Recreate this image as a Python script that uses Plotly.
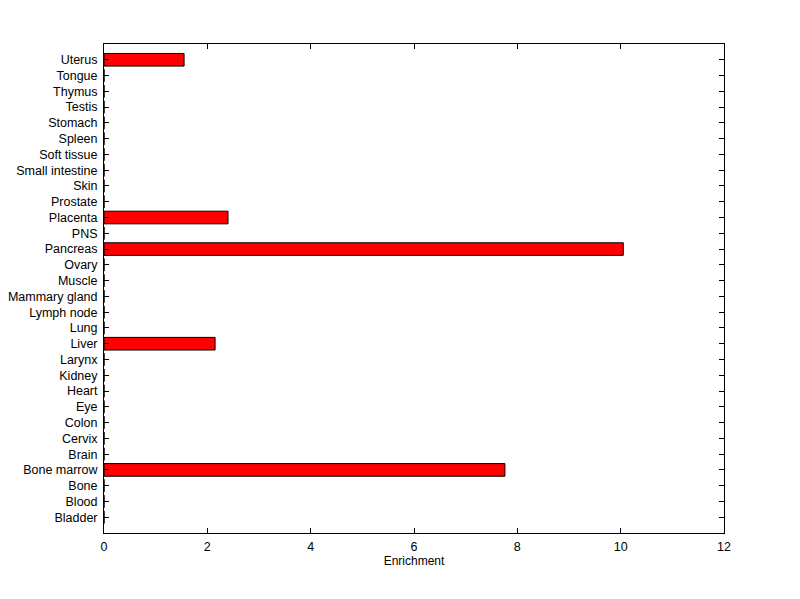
import plotly.graph_objects as go

categories = ["Bladder", "Blood", "Bone", "Bone marrow", "Brain", "Cervix", "Colon", "Eye",
              "Heart", "Kidney", "Larynx", "Liver", "Lung", "Lymph node", "Mammary gland",
              "Muscle", "Ovary", "Pancreas", "PNS", "Placenta", "Prostate", "Skin",
              "Small intestine", "Soft tissue", "Spleen", "Stomach", "Testis", "Thymus",
              "Tongue", "Uterus"]
enrichment = [0, 0, 0, 7.76, 0, 0, 0, 0,
              0, 0, 0, 2.15, 0, 0, 0,
              0, 0, 10.05, 0, 2.4, 0, 0,
              0, 0, 0, 0, 0, 0,
              0, 1.55]
x_ticks = [0, 2, 4, 6, 8, 10, 12]

idx = list(range(len(categories)))

fig = go.Figure(go.Bar(
    x=enrichment, y=idx, orientation="h", width=0.8,
    marker=dict(color="#ff0000", line=dict(color="black", width=1)),
))

fig.update_layout(
    width=800, height=599,
    paper_bgcolor="white", plot_bgcolor="white",
    margin=dict(l=96, r=84, t=36, b=74, autoexpand=False),
    font=dict(family="Liberation Sans, Arial, sans-serif", size=12.5, color="black"),
    showlegend=False,
)
fig.update_xaxes(
    range=[0, 12], tickvals=x_ticks, ticks="inside", ticklen=5, tickcolor="black",
    showline=True, linecolor="black", linewidth=1, mirror="ticks",
    showgrid=False, zeroline=False, ticklabelstandoff=2,
    title=dict(text="Enrichment", standoff=2, font=dict(size=12)),
)
fig.update_yaxes(
    range=[-1, 30], tickvals=idx, ticktext=categories, ticks="inside", ticklen=5,
    tickcolor="black", showline=True, linecolor="black", linewidth=1, mirror="ticks",
    showgrid=False, zeroline=False, ticklabelstandoff=3,
)

fig.write_html("out.html")
